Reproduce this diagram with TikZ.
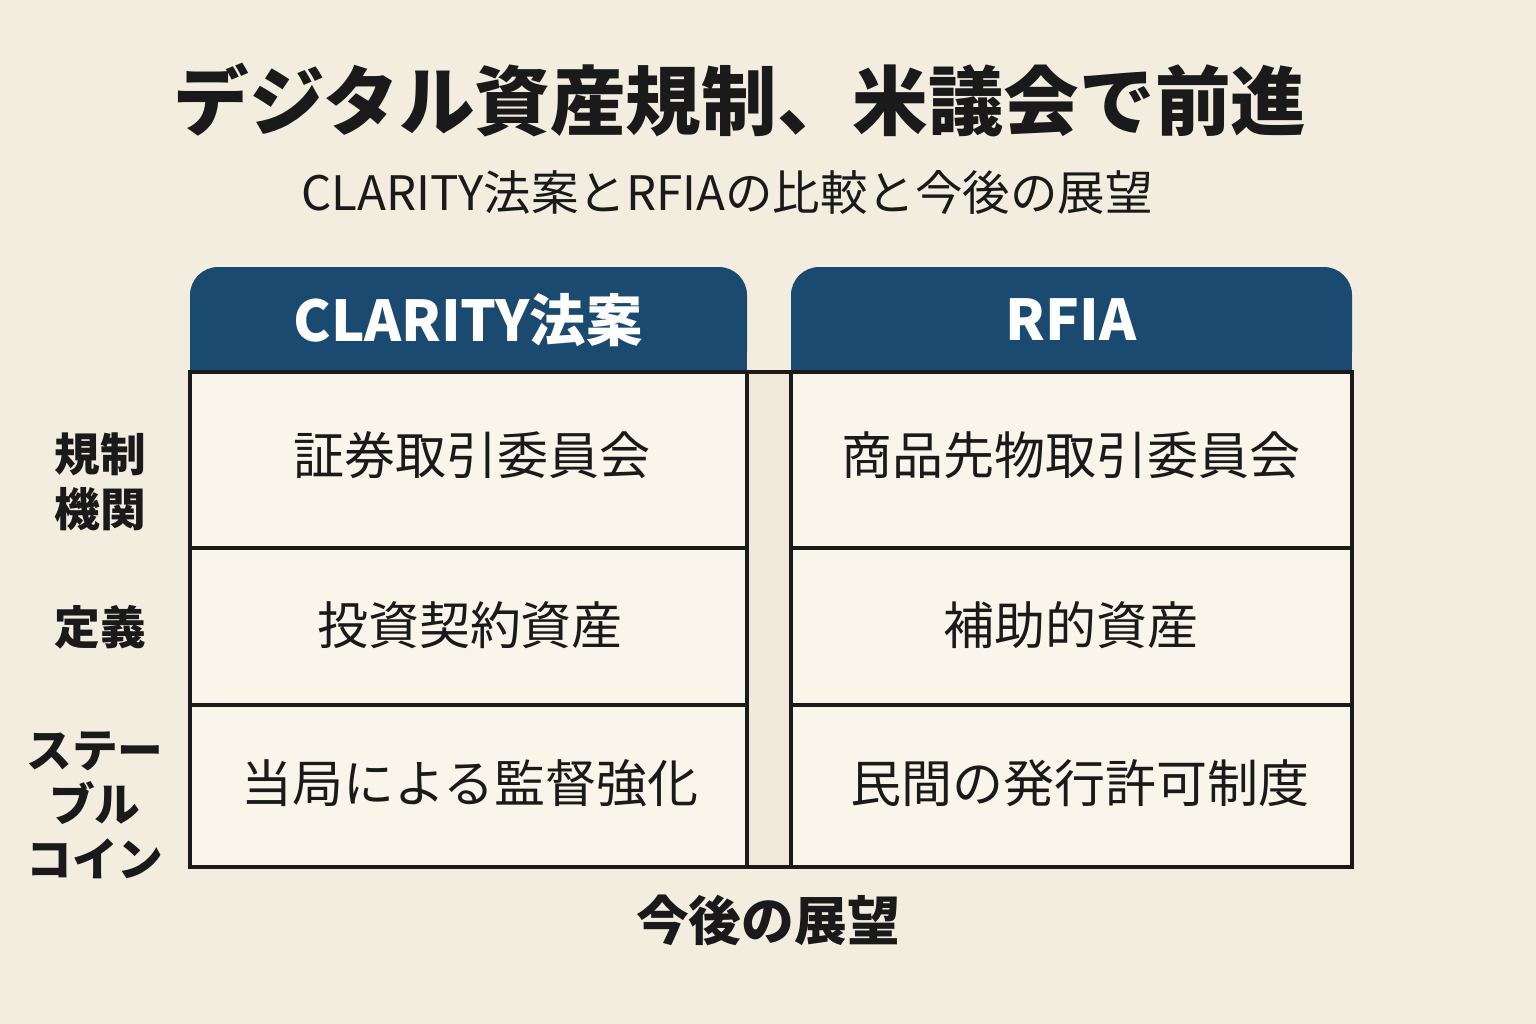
\documentclass[tikz,border=0pt]{standalone}
\usepackage{fontspec}
\setmainfont{Noto Sans CJK JP}
\usepackage{tikz}
\usetikzlibrary{positioning}
\definecolor{bgcol}{HTML}{F3EDE0}
\definecolor{cellcol}{HTML}{FAF5EA}
\definecolor{gapcol}{HTML}{F0E9DA}
\definecolor{headcol}{HTML}{1B4A70}
\definecolor{inkcol}{HTML}{1A1A1A}
\tikzset{
  cell/.style={draw=inkcol, line width=1.2pt, fill=cellcol, text=inkcol, font=\fontsize{14.5}{16}\selectfont},
  headbox/.style={fill=headcol, text=white, font=\fontsize{16}{18}\selectfont\bfseries},
  rowlabel/.style={text=inkcol, align=center, font=\fontsize{13}{15.5}\selectfont\bfseries}
}
\begin{document}
\begin{tikzpicture}[x=0.01cm, y=-0.01cm]
  \fill[bgcol] (0,0) rectangle (1536,1024);
  \useasboundingbox (0,0) rectangle (1536,1024);
  % titles
  \node (title) [text=inkcol, font=\fontsize{21.5}{24}\selectfont\bfseries] at (740,100) {デジタル資産規制、米議会で前進};
  \node (subtitle) [text=inkcol, font=\fontsize{13.5}{16}\selectfont] at (727,192) {CLARITY法案とRFIAの比較と今後の展望};
  % gap strip
  \fill[gapcol] (747,372) rectangle (791,867);
  \draw[inkcol, line width=1.2pt] (747,372) -- (791,372) (747,867) -- (791,867);
  % headers
  \fill[headcol, rounded corners=8pt] (190,267) rectangle (747,380);
  \fill[headcol] (190,340) rectangle (747,372);
  \fill[headcol, rounded corners=8pt] (791,267) rectangle (1352,380);
  \fill[headcol] (791,340) rectangle (1352,372);
  \node (hclarity) [headbox] at (468,320) {CLARITY法案};
  \node (hrfia) [headbox] at (1071,320) {RFIA};
  % cells
  \foreach \name/\xa/\xb in {l/190/747, r/791/1352}{
    \draw[cell] (\xa,372) rectangle (\xb,548);
    \draw[cell] (\xa,548) rectangle (\xb,705);
    \draw[cell] (\xa,705) rectangle (\xb,867);
  }
  \node (lagency) [text=inkcol, font=\fontsize{14.5}{16}\selectfont] at (472,455) {証券取引委員会};
  \node (ragency) [text=inkcol, font=\fontsize{14.5}{16}\selectfont] at (1071,455) {商品先物取引委員会};
  \node (ldef) [text=inkcol, font=\fontsize{14.5}{16}\selectfont] at (470,625) {投資契約資産};
  \node (rdef) [text=inkcol, font=\fontsize{14.5}{16}\selectfont] at (1071,625) {補助的資産};
  \node (lstable) [text=inkcol, font=\fontsize{14.5}{16}\selectfont] at (470,783) {当局による監督強化};
  \node (rstable) [text=inkcol, font=\fontsize{14.5}{16}\selectfont] at (1080,783) {民間の発行許可制度};
  % row labels
  \node (agency) [rowlabel] at (100,482) {規制\\機関};
  \node (definition) [rowlabel] at (100,627) {定義};
  \node (stable) [rowlabel] at (95,805) {ステー\\ブル\\コイン};
  % outlook
  \node (outlook) [text=inkcol, font=\fontsize{15}{18}\selectfont\bfseries] at (768,920) {今後の展望};
\end{tikzpicture}
\end{document}
